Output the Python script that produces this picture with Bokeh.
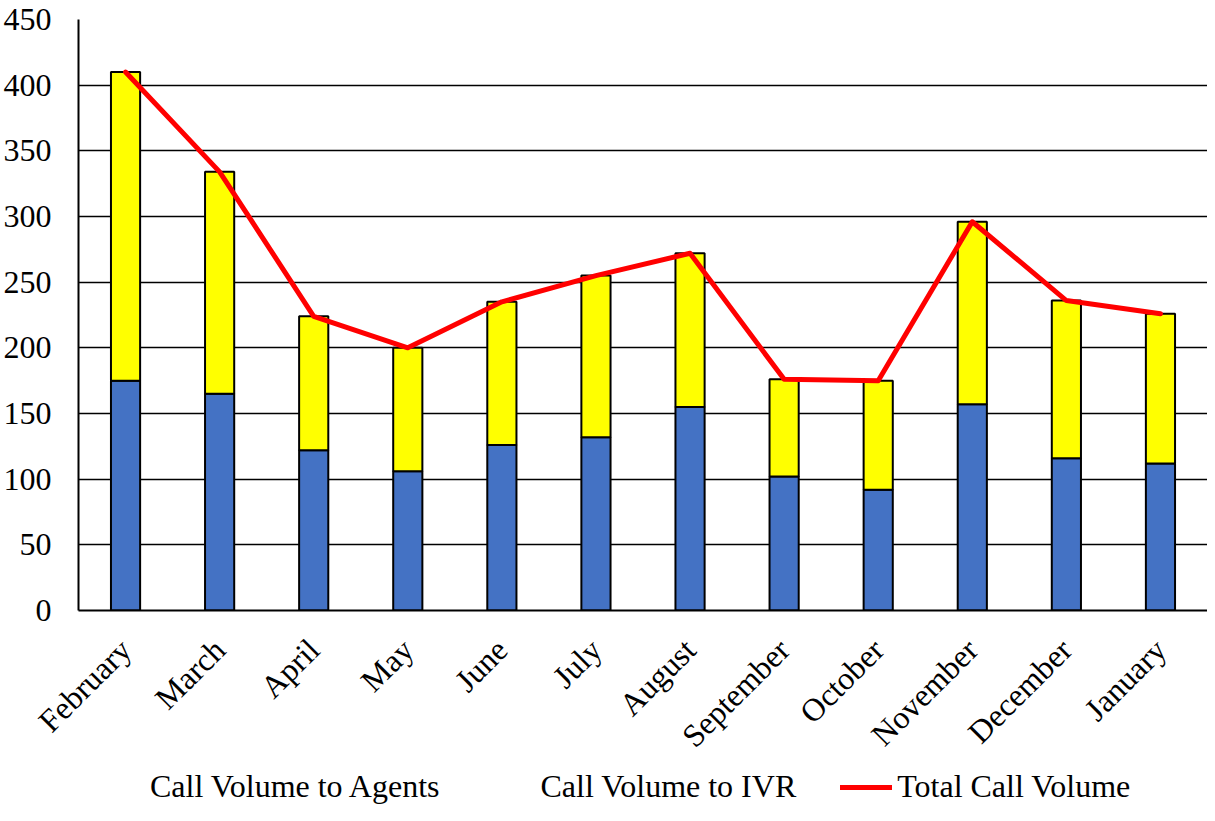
import math
from bokeh.plotting import figure
from bokeh.layouts import column
from bokeh.models import (Legend, LegendItem, Range1d, FactorRange, ColumnDataSource,
                          FixedTicker, CDSView, IndexFilter)
from bokeh.embed import file_html
from bokeh.resources import INLINE

months = ["February", "March", "April", "May", "June", "July", "August",
          "September", "October", "November", "December", "January"]
agents = [175, 165, 122, 106, 126, 132, 155, 102, 92, 157, 116, 112]
ivr = [235, 169, 102, 94, 109, 123, 117, 74, 83, 139, 120, 114]
total = [410, 334, 224, 200, 235, 255, 272, 176, 175, 296, 236, 226]
y_ticks = [0, 50, 100, 150, 200, 250, 300, 350, 400, 450]
series_names = ["Call Volume to Agents", "Call Volume to IVR", "Total Call Volume"]

FONT = "Liberation Serif"
BLUE, YELLOW, RED = "#4472C4", "#FFFF00", "#FF0000"
source = ColumnDataSource(dict(months=months, agents=agents, ivr=ivr, total=total))

p = figure(x_range=FactorRange(*months), y_range=Range1d(0, 450),
           width=1207, height=769, output_backend="svg", toolbar_location=None,
           min_border_left=72, min_border_right=0, min_border_top=19, min_border_bottom=157)
p.outline_line_color = None

p.vbar_stack(["agents", "ivr"], x="months", width=0.31, source=source,
             fill_color=[BLUE, YELLOW], line_color="black", line_width=2)
p.line(x="months", y="total", source=source, line_color=RED, line_width=5,
       line_join="round", line_cap="round")

p.xgrid.grid_line_color = None
p.ygrid.grid_line_color = "black"
p.ygrid.grid_line_width = 1.5
p.yaxis.ticker = FixedTicker(ticks=y_ticks)

for ax in (p.xaxis[0], p.yaxis[0]):
    ax.axis_line_color = "black"
    ax.axis_line_width = 2
    ax.major_tick_line_color = None
    ax.minor_tick_line_color = None
    ax.major_tick_out = 0
    ax.major_tick_in = 0
    ax.major_label_text_font = FONT
    ax.major_label_text_font_size = "32px"
    ax.major_label_text_color = "black"

p.yaxis.major_label_standoff = 27
p.xaxis.major_label_orientation = math.pi / 4
p.xaxis.major_label_standoff = 34

# legend strip: same series styles, no rows drawn, only the legend shows
lg = figure(x_range=FactorRange(*months), y_range=Range1d(5000, 5001),
            width=1207, height=36, output_backend="svg", toolbar_location=None,
            x_axis_location=None, y_axis_location=None,
            min_border_left=72, min_border_right=0, min_border_top=0, min_border_bottom=0)
lg.outline_line_color = None
lg.grid.grid_line_color = None
lb0 = lg.vbar(x="months", top="agents", width=0.31, source=source,
              view=CDSView(filter=IndexFilter(indices=[])),
              fill_color=BLUE, line_color="black", line_width=2)
lb1 = lg.vbar(x="months", top="ivr", width=0.31, source=source,
              view=CDSView(filter=IndexFilter(indices=[])),
              fill_color=YELLOW, line_color="black", line_width=2)
ll = lg.line(x="months", y="total", source=source, line_color=RED, line_width=5,
             line_cap="round")

legend = Legend(items=[
    LegendItem(label=series_names[0], renderers=[lb0]),
    LegendItem(label=series_names[1], renderers=[lb1]),
    LegendItem(label=series_names[2], renderers=[ll]),
], orientation="horizontal", location=(15, 0))
legend.label_text_font = FONT
legend.label_text_font_size = "32px"
legend.label_text_color = "black"
legend.glyph_width = 52
legend.glyph_height = 18
legend.label_standoff = 5
legend.spacing = 44
legend.padding = 0
legend.margin = 0
legend.border_line_color = None
legend.background_fill_alpha = 0
lg.add_layout(legend)

layout = column(p, lg, spacing=0)
open("out.html", "w").write(file_html(layout, INLINE))
